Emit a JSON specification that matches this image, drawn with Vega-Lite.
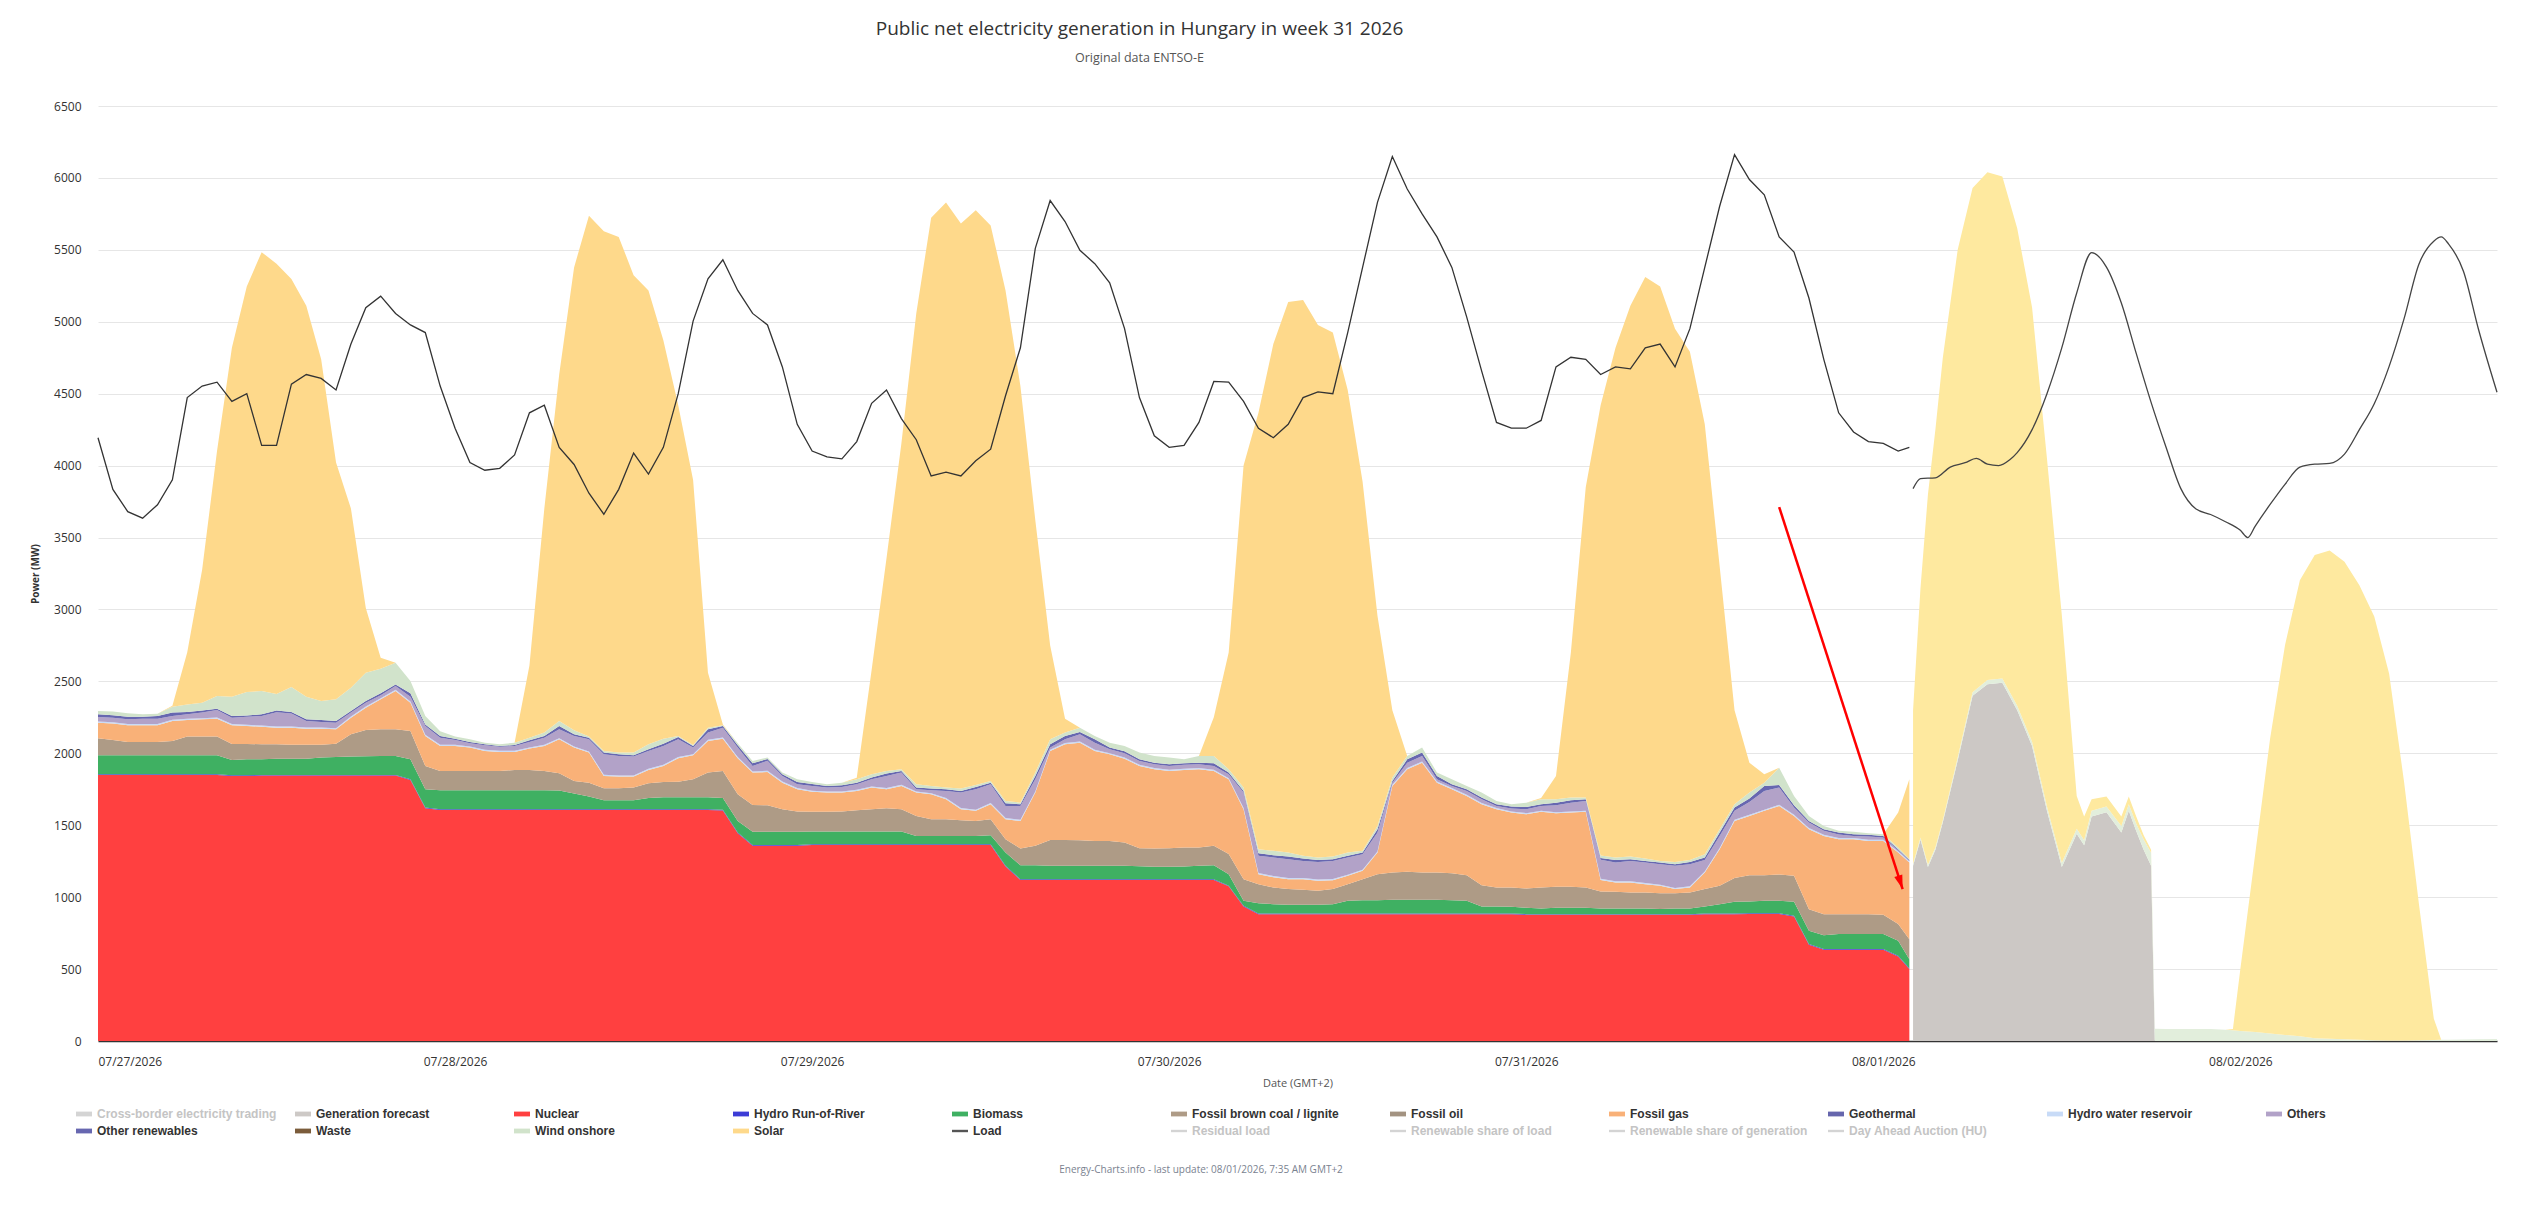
{
  "$schema": "https://vega.github.io/schema/vega-lite/v6.json",
  "width": 2399,
  "height": 935,
  "autosize": {"type": "none"},
  "padding": {"left": 98, "top": 106, "right": 28, "bottom": 164},
  "background": "white",
  "title": {
    "text": "Public net electricity generation in Hungary in week 31 2026",
    "subtitle": "Original data ENTSO-E",
    "anchor": "middle",
    "frame": "group",
    "dx": -158,
    "offset": 36,
    "font": "Open Sans",
    "fontSize": 19,
    "fontWeight": "normal",
    "color": "#333333",
    "subtitleFont": "Open Sans",
    "subtitleFontSize": 12.5,
    "subtitleColor": "#555555",
    "subtitlePadding": 13
  },
  "datasets": {
    "series": [
      {"k": "gf", "name": "Generation forecast", "ord": 2},
      {"k": "nuc", "name": "Nuclear", "ord": 3},
      {"k": "ror", "name": "Hydro Run-of-River", "ord": 4},
      {"k": "bio", "name": "Biomass", "ord": 5},
      {"k": "lig", "name": "Fossil brown coal / lignite", "ord": 6},
      {"k": "gas", "name": "Fossil gas", "ord": 8},
      {"k": "res", "name": "Hydro water reservoir", "ord": 10},
      {"k": "oth", "name": "Others", "ord": 11},
      {"k": "ore", "name": "Other renewables", "ord": 12},
      {"k": "wind", "name": "Wind onshore", "ord": 14},
      {"k": "sol", "name": "Solar", "ord": 15}
    ],
    "gen": [
      {"t":"2026-07-27T00:00","nuc":1849,"ror":5,"bio":132,"lig":118,"gas":109,"res":8,"oth":31,"ore":19,"wind":23,"sol":0,"load":4194},
      {"t":"2026-07-27T01:00","nuc":1849,"ror":5,"bio":132,"lig":107,"gas":115,"res":8,"oth":32,"ore":16,"wind":26,"sol":0,"load":3835},
      {"t":"2026-07-27T02:00","nuc":1849,"ror":5,"bio":132,"lig":93,"gas":116,"res":8,"oth":33,"ore":19,"wind":23,"sol":0,"load":3680},
      {"t":"2026-07-27T03:00","nuc":1849,"ror":5,"bio":132,"lig":93,"gas":116,"res":8,"oth":37,"ore":15,"wind":16,"sol":0,"load":3635},
      {"t":"2026-07-27T04:00","nuc":1849,"ror":5,"bio":132,"lig":93,"gas":116,"res":8,"oth":37,"ore":19,"wind":16,"sol":0,"load":3728},
      {"t":"2026-07-27T05:00","nuc":1849,"ror":5,"bio":132,"lig":100,"gas":139,"res":8,"oth":27,"ore":23,"wind":41,"sol":6,"load":3901},
      {"t":"2026-07-27T06:00","nuc":1849,"ror":5,"bio":132,"lig":130,"gas":116,"res":8,"oth":31,"ore":16,"wind":53,"sol":363,"load":4473},
      {"t":"2026-07-27T07:00","nuc":1849,"ror":5,"bio":132,"lig":130,"gas":120,"res":8,"oth":39,"ore":14,"wind":55,"sol":924,"load":4553},
      {"t":"2026-07-27T08:00","nuc":1849,"ror":5,"bio":132,"lig":130,"gas":125,"res":8,"oth":52,"ore":9,"wind":88,"sol":1703,"load":4580},
      {"t":"2026-07-27T09:00","nuc":1842,"ror":5,"bio":107,"lig":111,"gas":130,"res":8,"oth":45,"ore":11,"wind":135,"sol":2425,"load":4447},
      {"t":"2026-07-27T10:00","nuc":1842,"ror":5,"bio":111,"lig":107,"gas":125,"res":8,"oth":57,"ore":7,"wind":164,"sol":2819,"load":4500},
      {"t":"2026-07-27T11:00","nuc":1845,"ror":5,"bio":108,"lig":105,"gas":122,"res":8,"oth":66,"ore":12,"wind":162,"sol":3051,"load":4141},
      {"t":"2026-07-27T12:00","nuc":1845,"ror":5,"bio":113,"lig":100,"gas":115,"res":8,"oth":100,"ore":11,"wind":116,"sol":2991,"load":4141},
      {"t":"2026-07-27T13:00","nuc":1845,"ror":5,"bio":113,"lig":97,"gas":118,"res":8,"oth":90,"ore":12,"wind":173,"sol":2837,"load":4566},
      {"t":"2026-07-27T14:00","nuc":1845,"ror":5,"bio":113,"lig":97,"gas":111,"res":8,"oth":46,"ore":11,"wind":158,"sol":2717,"load":4633},
      {"t":"2026-07-27T15:00","nuc":1845,"ror":5,"bio":120,"lig":90,"gas":111,"res":8,"oth":39,"ore":14,"wind":132,"sol":2375,"load":4606},
      {"t":"2026-07-27T16:00","nuc":1845,"ror":5,"bio":125,"lig":92,"gas":100,"res":8,"oth":38,"ore":12,"wind":150,"sol":1646,"load":4526},
      {"t":"2026-07-27T17:00","nuc":1845,"ror":5,"bio":127,"lig":155,"gas":116,"res":8,"oth":27,"ore":11,"wind":162,"sol":1246,"load":4845},
      {"t":"2026-07-27T18:00","nuc":1845,"ror":5,"bio":130,"lig":182,"gas":155,"res":8,"oth":27,"ore":12,"wind":196,"sol":450,"load":5098},
      {"t":"2026-07-27T19:00","nuc":1845,"ror":5,"bio":132,"lig":185,"gas":208,"res":8,"oth":20,"ore":14,"wind":171,"sol":77,"load":5178},
      {"t":"2026-07-27T20:00","nuc":1845,"ror":5,"bio":132,"lig":185,"gas":266,"res":8,"oth":27,"ore":11,"wind":151,"sol":0,"load":5058},
      {"t":"2026-07-27T21:00","nuc":1815,"ror":5,"bio":138,"lig":197,"gas":197,"res":8,"oth":34,"ore":23,"wind":85,"sol":0,"load":4978},
      {"t":"2026-07-27T22:00","nuc":1618,"ror":5,"bio":127,"lig":162,"gas":209,"res":8,"oth":61,"ore":11,"wind":58,"sol":0,"load":4925},
      {"t":"2026-07-27T23:00","nuc":1606,"ror":5,"bio":132,"lig":134,"gas":174,"res":8,"oth":50,"ore":12,"wind":32,"sol":0,"load":4553},
      {"t":"2026-07-28T00:00","nuc":1606,"ror":5,"bio":132,"lig":134,"gas":174,"res":8,"oth":34,"ore":9,"wind":14,"sol":0,"load":4260},
      {"t":"2026-07-28T01:00","nuc":1606,"ror":5,"bio":132,"lig":134,"gas":163,"res":8,"oth":22,"ore":9,"wind":18,"sol":0,"load":4021},
      {"t":"2026-07-28T02:00","nuc":1606,"ror":5,"bio":132,"lig":134,"gas":139,"res":8,"oth":32,"ore":7,"wind":11,"sol":0,"load":3968},
      {"t":"2026-07-28T03:00","nuc":1606,"ror":5,"bio":132,"lig":134,"gas":132,"res":8,"oth":29,"ore":5,"wind":12,"sol":0,"load":3981},
      {"t":"2026-07-28T04:00","nuc":1606,"ror":5,"bio":132,"lig":141,"gas":125,"res":8,"oth":34,"ore":7,"wind":16,"sol":0,"load":4074},
      {"t":"2026-07-28T05:00","nuc":1606,"ror":5,"bio":132,"lig":141,"gas":149,"res":8,"oth":38,"ore":11,"wind":19,"sol":502,"load":4367},
      {"t":"2026-07-28T06:00","nuc":1606,"ror":5,"bio":132,"lig":134,"gas":174,"res":8,"oth":50,"ore":12,"wind":23,"sol":1558,"load":4420},
      {"t":"2026-07-28T07:00","nuc":1606,"ror":5,"bio":130,"lig":120,"gas":236,"res":8,"oth":62,"ore":23,"wind":35,"sol":2408,"load":4127},
      {"t":"2026-07-28T08:00","nuc":1606,"ror":5,"bio":109,"lig":88,"gas":232,"res":8,"oth":73,"ore":11,"wind":28,"sol":3218,"load":4008},
      {"t":"2026-07-28T09:00","nuc":1606,"ror":5,"bio":89,"lig":96,"gas":209,"res":8,"oth":84,"ore":12,"wind":7,"sol":3621,"load":3808},
      {"t":"2026-07-28T10:00","nuc":1606,"ror":5,"bio":63,"lig":83,"gas":86,"res":8,"oth":142,"ore":12,"wind":11,"sol":3614,"load":3662},
      {"t":"2026-07-28T11:00","nuc":1606,"ror":5,"bio":63,"lig":83,"gas":81,"res":8,"oth":136,"ore":11,"wind":12,"sol":3585,"load":3835},
      {"t":"2026-07-28T12:00","nuc":1606,"ror":5,"bio":63,"lig":88,"gas":76,"res":8,"oth":131,"ore":9,"wind":19,"sol":3319,"load":4087},
      {"t":"2026-07-28T13:00","nuc":1606,"ror":5,"bio":79,"lig":102,"gas":92,"res":8,"oth":124,"ore":12,"wind":35,"sol":3155,"load":3941},
      {"t":"2026-07-28T14:00","nuc":1606,"ror":5,"bio":84,"lig":106,"gas":111,"res":8,"oth":131,"ore":16,"wind":35,"sol":2770,"load":4127},
      {"t":"2026-07-28T15:00","nuc":1606,"ror":5,"bio":84,"lig":108,"gas":163,"res":8,"oth":123,"ore":17,"wind":7,"sol":2299,"load":4500},
      {"t":"2026-07-28T16:00","nuc":1606,"ror":5,"bio":84,"lig":125,"gas":166,"res":8,"oth":46,"ore":11,"wind":7,"sol":1842,"load":5005},
      {"t":"2026-07-28T17:00","nuc":1606,"ror":5,"bio":84,"lig":171,"gas":220,"res":8,"oth":50,"ore":23,"wind":11,"sol":382,"load":5298},
      {"t":"2026-07-28T18:00","nuc":1602,"ror":5,"bio":83,"lig":187,"gas":225,"res":8,"oth":68,"ore":12,"wind":5,"sol":5,"load":5431},
      {"t":"2026-07-28T19:00","nuc":1444,"ror":5,"bio":81,"lig":185,"gas":251,"res":8,"oth":66,"ore":16,"wind":14,"sol":0,"load":5218},
      {"t":"2026-07-28T20:00","nuc":1358,"ror":5,"bio":91,"lig":187,"gas":225,"res":8,"oth":38,"ore":19,"wind":16,"sol":0,"load":5058},
      {"t":"2026-07-28T21:00","nuc":1358,"ror":5,"bio":91,"lig":185,"gas":231,"res":8,"oth":70,"ore":12,"wind":11,"sol":0,"load":4978},
      {"t":"2026-07-28T22:00","nuc":1358,"ror":5,"bio":91,"lig":157,"gas":185,"res":8,"oth":39,"ore":11,"wind":12,"sol":0,"load":4686},
      {"t":"2026-07-28T23:00","nuc":1358,"ror":5,"bio":91,"lig":141,"gas":155,"res":8,"oth":27,"ore":16,"wind":19,"sol":0,"load":4287},
      {"t":"2026-07-29T00:00","nuc":1363,"ror":5,"bio":88,"lig":137,"gas":139,"res":8,"oth":33,"ore":14,"wind":14,"sol":0,"load":4101},
      {"t":"2026-07-29T01:00","nuc":1363,"ror":5,"bio":88,"lig":137,"gas":134,"res":8,"oth":27,"ore":11,"wind":12,"sol":0,"load":4061},
      {"t":"2026-07-29T02:00","nuc":1363,"ror":5,"bio":88,"lig":139,"gas":132,"res":8,"oth":31,"ore":12,"wind":18,"sol":0,"load":4047},
      {"t":"2026-07-29T03:00","nuc":1363,"ror":5,"bio":88,"lig":148,"gas":134,"res":8,"oth":39,"ore":11,"wind":24,"sol":10,"load":4167},
      {"t":"2026-07-29T04:00","nuc":1363,"ror":5,"bio":88,"lig":155,"gas":151,"res":8,"oth":49,"ore":12,"wind":23,"sol":726,"load":4433},
      {"t":"2026-07-29T05:00","nuc":1363,"ror":5,"bio":88,"lig":162,"gas":132,"res":8,"oth":85,"ore":16,"wind":18,"sol":1479,"load":4526},
      {"t":"2026-07-29T06:00","nuc":1363,"ror":5,"bio":88,"lig":155,"gas":162,"res":8,"oth":85,"ore":11,"wind":12,"sol":2265,"load":4327},
      {"t":"2026-07-29T07:00","nuc":1363,"ror":5,"bio":58,"lig":139,"gas":162,"res":8,"oth":15,"ore":12,"wind":23,"sol":3273,"load":4180},
      {"t":"2026-07-29T08:00","nuc":1363,"ror":5,"bio":58,"lig":116,"gas":173,"res":8,"oth":20,"ore":12,"wind":18,"sol":3950,"load":3928},
      {"t":"2026-07-29T09:00","nuc":1363,"ror":5,"bio":58,"lig":116,"gas":139,"res":8,"oth":49,"ore":12,"wind":12,"sol":4068,"load":3954},
      {"t":"2026-07-29T10:00","nuc":1363,"ror":5,"bio":58,"lig":109,"gas":76,"res":8,"oth":108,"ore":11,"wind":17,"sol":3928,"load":3928},
      {"t":"2026-07-29T11:00","nuc":1363,"ror":5,"bio":58,"lig":104,"gas":70,"res":8,"oth":142,"ore":16,"wind":14,"sol":3996,"load":4034},
      {"t":"2026-07-29T12:00","nuc":1363,"ror":5,"bio":63,"lig":111,"gas":104,"res":8,"oth":131,"ore":11,"wind":12,"sol":3862,"load":4114},
      {"t":"2026-07-29T13:00","nuc":1213,"ror":5,"bio":92,"lig":93,"gas":139,"res":8,"oth":84,"ore":19,"wind":16,"sol":3549,"load":4486},
      {"t":"2026-07-29T14:00","nuc":1120,"ror":5,"bio":97,"lig":116,"gas":192,"res":8,"oth":96,"ore":12,"wind":11,"sol":2896,"load":4819},
      {"t":"2026-07-29T15:00","nuc":1120,"ror":5,"bio":97,"lig":135,"gas":370,"res":8,"oth":85,"ore":23,"wind":23,"sol":1756,"load":5510},
      {"t":"2026-07-29T16:00","nuc":1120,"ror":5,"bio":93,"lig":180,"gas":618,"res":8,"oth":16,"ore":23,"wind":34,"sol":653,"load":5843},
      {"t":"2026-07-29T17:00","nuc":1120,"ror":5,"bio":93,"lig":180,"gas":665,"res":8,"oth":26,"ore":24,"wind":23,"sol":96,"load":5697},
      {"t":"2026-07-29T18:00","nuc":1120,"ror":5,"bio":93,"lig":178,"gas":678,"res":8,"oth":50,"ore":16,"wind":30,"sol":0,"load":5497},
      {"t":"2026-07-29T19:00","nuc":1120,"ror":5,"bio":93,"lig":173,"gas":625,"res":8,"oth":50,"ore":23,"wind":24,"sol":0,"load":5404},
      {"t":"2026-07-29T20:00","nuc":1120,"ror":5,"bio":93,"lig":173,"gas":602,"res":8,"oth":27,"ore":12,"wind":34,"sol":0,"load":5271},
      {"t":"2026-07-29T21:00","nuc":1120,"ror":5,"bio":93,"lig":162,"gas":583,"res":8,"oth":29,"ore":14,"wind":37,"sol":0,"load":4952},
      {"t":"2026-07-29T22:00","nuc":1120,"ror":5,"bio":90,"lig":125,"gas":572,"res":8,"oth":27,"ore":11,"wind":47,"sol":0,"load":4473},
      {"t":"2026-07-29T23:00","nuc":1120,"ror":5,"bio":86,"lig":127,"gas":551,"res":8,"oth":27,"ore":11,"wind":47,"sol":0,"load":4207},
      {"t":"2026-07-30T00:00","nuc":1120,"ror":5,"bio":86,"lig":129,"gas":537,"res":8,"oth":27,"ore":12,"wind":46,"sol":0,"load":4127},
      {"t":"2026-07-30T01:00","nuc":1120,"ror":5,"bio":88,"lig":132,"gas":539,"res":8,"oth":28,"ore":11,"wind":27,"sol":0,"load":4141},
      {"t":"2026-07-30T02:00","nuc":1120,"ror":5,"bio":93,"lig":127,"gas":544,"res":8,"oth":27,"ore":11,"wind":47,"sol":0,"load":4300},
      {"t":"2026-07-30T03:00","nuc":1120,"ror":5,"bio":97,"lig":135,"gas":520,"res":8,"oth":27,"ore":19,"wind":51,"sol":268,"load":4585},
      {"t":"2026-07-30T04:00","nuc":1075,"ror":5,"bio":80,"lig":140,"gas":519,"res":8,"oth":27,"ore":12,"wind":23,"sol":811,"load":4580},
      {"t":"2026-07-30T05:00","nuc":935,"ror":5,"bio":35,"lig":150,"gas":486,"res":8,"oth":108,"ore":11,"wind":24,"sol":2238,"load":4447},
      {"t":"2026-07-30T06:00","nuc":882,"ror":5,"bio":71,"lig":132,"gas":70,"res":8,"oth":119,"ore":19,"wind":27,"sol":3034,"load":4260},
      {"t":"2026-07-30T07:00","nuc":882,"ror":5,"bio":64,"lig":116,"gas":72,"res":8,"oth":129,"ore":16,"wind":30,"sol":3523,"load":4194},
      {"t":"2026-07-30T08:00","nuc":882,"ror":5,"bio":60,"lig":109,"gas":69,"res":8,"oth":131,"ore":18,"wind":28,"sol":3828,"load":4287},
      {"t":"2026-07-30T09:00","nuc":882,"ror":5,"bio":60,"lig":104,"gas":74,"res":8,"oth":119,"ore":17,"wind":18,"sol":3864,"load":4473},
      {"t":"2026-07-30T10:00","nuc":882,"ror":5,"bio":60,"lig":97,"gas":70,"res":8,"oth":123,"ore":14,"wind":16,"sol":3703,"load":4513},
      {"t":"2026-07-30T11:00","nuc":882,"ror":5,"bio":64,"lig":105,"gas":62,"res":8,"oth":126,"ore":12,"wind":18,"sol":3643,"load":4500},
      {"t":"2026-07-30T12:00","nuc":882,"ror":5,"bio":88,"lig":115,"gas":58,"res":8,"oth":120,"ore":11,"wind":23,"sol":3216,"load":4925},
      {"t":"2026-07-30T13:00","nuc":882,"ror":5,"bio":92,"lig":146,"gas":58,"res":8,"oth":108,"ore":11,"wind":12,"sol":2566,"load":5378},
      {"t":"2026-07-30T14:00","nuc":882,"ror":5,"bio":92,"lig":181,"gas":150,"res":8,"oth":131,"ore":23,"wind":23,"sol":1462,"load":5830},
      {"t":"2026-07-30T15:00","nuc":882,"ror":5,"bio":95,"lig":189,"gas":602,"res":8,"oth":15,"ore":12,"wind":23,"sol":469,"load":6149},
      {"t":"2026-07-30T16:00","nuc":882,"ror":5,"bio":95,"lig":194,"gas":713,"res":8,"oth":38,"ore":23,"wind":24,"sol":0,"load":5923},
      {"t":"2026-07-30T17:00","nuc":882,"ror":5,"bio":95,"lig":189,"gas":764,"res":8,"oth":39,"ore":23,"wind":35,"sol":0,"load":5750},
      {"t":"2026-07-30T18:00","nuc":882,"ror":5,"bio":95,"lig":189,"gas":625,"res":8,"oth":16,"ore":23,"wind":23,"sol":0,"load":5590},
      {"t":"2026-07-30T19:00","nuc":882,"ror":5,"bio":92,"lig":188,"gas":583,"res":8,"oth":15,"ore":12,"wind":35,"sol":0,"load":5378},
      {"t":"2026-07-30T20:00","nuc":882,"ror":5,"bio":88,"lig":178,"gas":551,"res":8,"oth":26,"ore":12,"wind":23,"sol":0,"load":5032},
      {"t":"2026-07-30T21:00","nuc":882,"ror":5,"bio":48,"lig":148,"gas":563,"res":8,"oth":27,"ore":11,"wind":35,"sol":0,"load":4659},
      {"t":"2026-07-30T22:00","nuc":882,"ror":5,"bio":48,"lig":132,"gas":544,"res":8,"oth":15,"ore":12,"wind":23,"sol":0,"load":4300},
      {"t":"2026-07-30T23:00","nuc":882,"ror":5,"bio":46,"lig":134,"gas":521,"res":8,"oth":20,"ore":14,"wind":16,"sol":0,"load":4260},
      {"t":"2026-07-31T00:00","nuc":877,"ror":5,"bio":44,"lig":134,"gas":516,"res":8,"oth":27,"ore":16,"wind":30,"sol":0,"load":4260},
      {"t":"2026-07-31T01:00","nuc":877,"ror":5,"bio":39,"lig":146,"gas":526,"res":8,"oth":33,"ore":12,"wind":35,"sol":9,"load":4314},
      {"t":"2026-07-31T02:00","nuc":877,"ror":5,"bio":44,"lig":146,"gas":511,"res":8,"oth":48,"ore":18,"wind":24,"sol":162,"load":4686},
      {"t":"2026-07-31T03:00","nuc":877,"ror":5,"bio":44,"lig":146,"gas":516,"res":8,"oth":61,"ore":17,"wind":18,"sol":1008,"load":4753},
      {"t":"2026-07-31T04:00","nuc":877,"ror":5,"bio":44,"lig":141,"gas":526,"res":8,"oth":68,"ore":12,"wind":11,"sol":2158,"load":4739},
      {"t":"2026-07-31T05:00","nuc":877,"ror":5,"bio":39,"lig":119,"gas":80,"res":8,"oth":132,"ore":12,"wind":18,"sol":3130,"load":4633},
      {"t":"2026-07-31T06:00","nuc":877,"ror":5,"bio":39,"lig":116,"gas":65,"res":8,"oth":131,"ore":18,"wind":16,"sol":3544,"load":4686},
      {"t":"2026-07-31T07:00","nuc":877,"ror":5,"bio":39,"lig":111,"gas":70,"res":8,"oth":142,"ore":12,"wind":18,"sol":3829,"load":4673},
      {"t":"2026-07-31T08:00","nuc":877,"ror":5,"bio":39,"lig":111,"gas":58,"res":8,"oth":143,"ore":11,"wind":17,"sol":4042,"load":4819},
      {"t":"2026-07-31T09:00","nuc":877,"ror":5,"bio":35,"lig":111,"gas":51,"res":8,"oth":142,"ore":12,"wind":11,"sol":3993,"load":4845},
      {"t":"2026-07-31T10:00","nuc":877,"ror":5,"bio":39,"lig":107,"gas":28,"res":8,"oth":154,"ore":11,"wind":16,"sol":3707,"load":4686},
      {"t":"2026-07-31T11:00","nuc":877,"ror":5,"bio":39,"lig":111,"gas":35,"res":8,"oth":154,"ore":16,"wind":14,"sol":3533,"load":4952},
      {"t":"2026-07-31T12:00","nuc":882,"ror":5,"bio":48,"lig":121,"gas":115,"res":8,"oth":80,"ore":16,"wind":24,"sol":2988,"load":5378},
      {"t":"2026-07-31T13:00","nuc":882,"ror":5,"bio":64,"lig":128,"gas":254,"res":8,"oth":85,"ore":23,"wind":23,"sol":1828,"load":5803},
      {"t":"2026-07-31T14:00","nuc":882,"ror":5,"bio":81,"lig":166,"gas":396,"res":8,"oth":62,"ore":23,"wind":23,"sol":654,"load":6162},
      {"t":"2026-07-31T15:00","nuc":883,"ror":5,"bio":82,"lig":183,"gas":412,"res":8,"oth":89,"ore":23,"wind":42,"sol":208,"load":5989},
      {"t":"2026-07-31T16:00","nuc":883,"ror":5,"bio":87,"lig":178,"gas":447,"res":8,"oth":130,"ore":35,"wind":23,"sol":58,"load":5883},
      {"t":"2026-07-31T17:00","nuc":883,"ror":5,"bio":87,"lig":182,"gas":477,"res":8,"oth":120,"ore":18,"wind":120,"sol":0,"load":5590},
      {"t":"2026-07-31T18:00","nuc":865,"ror":5,"bio":98,"lig":180,"gas":417,"res":8,"oth":50,"ore":16,"wind":65,"sol":0,"load":5484},
      {"t":"2026-07-31T19:00","nuc":669,"ror":5,"bio":92,"lig":150,"gas":556,"res":8,"oth":39,"ore":11,"wind":35,"sol":0,"load":5165},
      {"t":"2026-07-31T20:00","nuc":634,"ror":5,"bio":97,"lig":146,"gas":544,"res":8,"oth":27,"ore":11,"wind":23,"sol":0,"load":4739},
      {"t":"2026-07-31T21:00","nuc":634,"ror":5,"bio":104,"lig":139,"gas":521,"res":8,"oth":24,"ore":14,"wind":12,"sol":0,"load":4367},
      {"t":"2026-07-31T22:00","nuc":634,"ror":5,"bio":104,"lig":139,"gas":521,"res":8,"oth":15,"ore":12,"wind":16,"sol":0,"load":4234},
      {"t":"2026-07-31T23:00","nuc":634,"ror":5,"bio":104,"lig":139,"gas":509,"res":8,"oth":22,"ore":12,"wind":12,"sol":0,"load":4167},
      {"t":"2026-08-01T00:00","nuc":634,"ror":5,"bio":104,"lig":134,"gas":514,"res":8,"oth":15,"ore":12,"wind":12,"sol":0,"load":4154},
      {"t":"2026-08-01T01:00","nuc":588,"ror":5,"bio":104,"lig":116,"gas":497,"res":8,"oth":8,"ore":7,"wind":12,"sol":243,"load":4101},
      {"t":"2026-08-01T01:45","nuc":500,"ror":5,"bio":64,"lig":139,"gas":533,"res":8,"oth":3,"ore":6,"wind":7,"sol":555,"load":4127}
    ],
    "fc": [
      {"t":"2026-08-01T02:00","gf":1218,"wind":15,"sol":1067},
      {"t":"2026-08-01T02:30","gf":1400,"wind":15,"sol":1735},
      {"t":"2026-08-01T03:00","gf":1210,"wind":15,"sol":2575},
      {"t":"2026-08-01T03:30","gf":1330,"wind":15,"sol":2905},
      {"t":"2026-08-01T04:00","gf":1520,"wind":15,"sol":3215},
      {"t":"2026-08-01T05:00","gf":1950,"wind":20,"sol":3530},
      {"t":"2026-08-01T06:00","gf":2400,"wind":25,"sol":3505},
      {"t":"2026-08-01T07:00","gf":2480,"wind":30,"sol":3530},
      {"t":"2026-08-01T08:00","gf":2490,"wind":30,"sol":3490},
      {"t":"2026-08-01T09:00","gf":2300,"wind":30,"sol":3320},
      {"t":"2026-08-01T10:00","gf":2050,"wind":30,"sol":3020},
      {"t":"2026-08-01T11:00","gf":1600,"wind":30,"sol":2420},
      {"t":"2026-08-01T12:00","gf":1210,"wind":30,"sol":1720},
      {"t":"2026-08-01T13:00","gf":1440,"wind":35,"sol":229},
      {"t":"2026-08-01T13:30","gf":1360,"wind":35,"sol":165},
      {"t":"2026-08-01T14:00","gf":1560,"wind":40,"sol":80},
      {"t":"2026-08-01T15:00","gf":1590,"wind":40,"sol":70},
      {"t":"2026-08-01T16:00","gf":1450,"wind":45,"sol":65},
      {"t":"2026-08-01T16:30","gf":1600,"wind":45,"sol":55},
      {"t":"2026-08-01T17:00","gf":1460,"wind":50,"sol":50},
      {"t":"2026-08-01T17:30","gf":1330,"wind":70,"sol":30},
      {"t":"2026-08-01T18:00","gf":1218,"wind":90,"sol":22},
      {"t":"2026-08-01T18:15","gf":0,"wind":85,"sol":0},
      {"t":"2026-08-01T19:00","gf":0,"wind":84,"sol":0},
      {"t":"2026-08-01T20:00","gf":0,"wind":84,"sol":0},
      {"t":"2026-08-01T21:00","gf":0,"wind":83,"sol":0},
      {"t":"2026-08-01T22:00","gf":0,"wind":83,"sol":0},
      {"t":"2026-08-01T23:00","gf":0,"wind":78,"sol":0},
      {"t":"2026-08-01T23:30","gf":0,"wind":74,"sol":10},
      {"t":"2026-08-02T00:00","gf":0,"wind":70,"sol":430},
      {"t":"2026-08-02T01:00","gf":0,"wind":62,"sol":1240},
      {"t":"2026-08-02T02:00","gf":0,"wind":53,"sol":2050},
      {"t":"2026-08-02T03:00","gf":0,"wind":42,"sol":2710},
      {"t":"2026-08-02T04:00","gf":0,"wind":33,"sol":3170},
      {"t":"2026-08-02T05:00","gf":0,"wind":19,"sol":3360},
      {"t":"2026-08-02T06:00","gf":0,"wind":15,"sol":3395},
      {"t":"2026-08-02T07:00","gf":0,"wind":12,"sol":3320},
      {"t":"2026-08-02T08:00","gf":0,"wind":8,"sol":3160},
      {"t":"2026-08-02T09:00","gf":0,"wind":6,"sol":2945},
      {"t":"2026-08-02T10:00","gf":0,"wind":3,"sol":2550},
      {"t":"2026-08-02T11:00","gf":0,"wind":4,"sol":1800},
      {"t":"2026-08-02T12:00","gf":0,"wind":5,"sol":950},
      {"t":"2026-08-02T13:00","gf":0,"wind":7,"sol":150},
      {"t":"2026-08-02T13:30","gf":0,"wind":8,"sol":0},
      {"t":"2026-08-02T14:00","gf":0,"wind":9,"sol":0},
      {"t":"2026-08-02T15:00","gf":0,"wind":11,"sol":0},
      {"t":"2026-08-02T16:00","gf":0,"wind":12,"sol":0},
      {"t":"2026-08-02T17:15","gf":0,"wind":14,"sol":0}
    ],
    "loadfc": [
      {"t":"2026-08-01T02:00","load":3840},
      {"t":"2026-08-01T02:30","load":3910},
      {"t":"2026-08-01T03:30","load":3915},
      {"t":"2026-08-01T04:30","load":3990},
      {"t":"2026-08-01T05:30","load":4020},
      {"t":"2026-08-01T06:15","load":4050},
      {"t":"2026-08-01T07:00","load":4010},
      {"t":"2026-08-01T07:45","load":4000},
      {"t":"2026-08-01T08:30","load":4040},
      {"t":"2026-08-01T09:00","load":4090},
      {"t":"2026-08-01T10:00","load":4250},
      {"t":"2026-08-01T11:00","load":4500},
      {"t":"2026-08-01T12:00","load":4820},
      {"t":"2026-08-01T13:00","load":5200},
      {"t":"2026-08-01T14:00","load":5480},
      {"t":"2026-08-01T15:00","load":5380},
      {"t":"2026-08-01T16:00","load":5130},
      {"t":"2026-08-01T17:00","load":4780},
      {"t":"2026-08-01T18:00","load":4440},
      {"t":"2026-08-01T19:00","load":4130},
      {"t":"2026-08-01T20:00","load":3840},
      {"t":"2026-08-01T21:00","load":3700},
      {"t":"2026-08-01T22:00","load":3660},
      {"t":"2026-08-01T23:00","load":3610},
      {"t":"2026-08-02T00:00","load":3550},
      {"t":"2026-08-02T00:30","load":3500},
      {"t":"2026-08-02T01:00","load":3580},
      {"t":"2026-08-02T02:00","load":3730},
      {"t":"2026-08-02T03:00","load":3870},
      {"t":"2026-08-02T04:00","load":3990},
      {"t":"2026-08-02T05:00","load":4010},
      {"t":"2026-08-02T06:00","load":4015},
      {"t":"2026-08-02T07:00","load":4080},
      {"t":"2026-08-02T08:00","load":4250},
      {"t":"2026-08-02T09:00","load":4430},
      {"t":"2026-08-02T10:00","load":4690},
      {"t":"2026-08-02T11:00","load":5020},
      {"t":"2026-08-02T12:00","load":5400},
      {"t":"2026-08-02T13:00","load":5560},
      {"t":"2026-08-02T13:30","load":5590},
      {"t":"2026-08-02T14:00","load":5540},
      {"t":"2026-08-02T15:00","load":5350},
      {"t":"2026-08-02T16:00","load":4950},
      {"t":"2026-08-02T17:15","load":4510}
    ],
    "arrow": [
      {"t":"2026-07-31T17:00","y":3712,"t2":"2026-08-01T01:18","y2":1056}
    ]
  },
  "layer": [
    {
      "data": {"name": "gen"},
      "transform": [
        {"fold": ["nuc","ror","bio","lig","gas","res","oth","ore","wind","sol"], "as": ["k","v"]},
        {"lookup": "k", "from": {"data": {"name": "series"}, "key": "k", "fields": ["name","ord"]}}
      ],
      "mark": {"type": "area", "interpolate": "linear"},
      "encoding": {
        "x": {
          "field": "t", "type": "temporal", "title": "Date (GMT+2)",
          "scale": {"domain": [{"year": 2026, "month": 7, "date": 27}, {"year": 2026, "month": 8, "date": 2, "hours": 17, "minutes": 15}]},
          "axis": {"format": "%m/%d/%Y", "tickCount": {"interval": "day", "step": 1}}
        },
        "y": {
          "field": "v", "type": "quantitative", "stack": "zero", "title": "Power (MW)",
          "scale": {"domain": [0, 6500], "nice": false},
          "axis": {"values": [0,500,1000,1500,2000,2500,3000,3500,4000,4500,5000,5500,6000,6500], "format": "d"}
        },
        "color": {
          "field": "name", "type": "nominal",
          "scale": {
            "domain": ["Cross-border electricity trading","Generation forecast","Nuclear","Hydro Run-of-River","Biomass","Fossil brown coal / lignite","Fossil oil","Fossil gas","Geothermal","Hydro water reservoir","Others","Other renewables","Waste","Wind onshore","Solar","Load","Residual load","Renewable share of load","Renewable share of generation","Day Ahead Auction (HU)"],
            "range": ["#d4d4d4","#cdc9c6","#ff4040","#3c3cd6","#3fb062","#ae9b86","#a39381","#f9b178","#6666ad","#c8dbf7","#b2a2c8","#6767b0","#7b5c3b","#d1e3cb","#fed98b","#555555","#d4d4d4","#d4d4d4","#d4d4d4","#d4d4d4"]
          },
          "legend": {
            "orient": "none",
            "legendX": -22,
            "legendY": 1000,
            "direction": "horizontal",
            "columns": 11,
            "gridAlign": "all",
            "columnPadding": 18,
            "rowPadding": 3,
            "symbolType": {"expr": "indexof(['Load','Residual load','Renewable share of load','Renewable share of generation','Day Ahead Auction (HU)'], datum.value) >= 0 ? 'M-1,-0.15H1V0.15H-1Z' : 'M-1,-0.3H1V0.3H-1Z'"},
            "symbolSize": 256,
            "symbolStrokeWidth": 0,
            "symbolOpacity": 1,
            "labelFont": "Liberation Sans",
            "labelFontSize": 12,
            "labelFontWeight": "bold",
            "labelColor": {"expr": "indexof(['Cross-border electricity trading','Residual load','Renewable share of load','Renewable share of generation','Day Ahead Auction (HU)'], datum.value) >= 0 ? '#c4c4c4' : '#333333'"},
            "labelOffset": 5,
            "labelLimit": 280,
            "title": "Energy-Charts.info - last update: 08/01/2026, 7:35 AM GMT+2",
            "titleOrient": "bottom",
            "titleAnchor": "middle",
            "titleFont": "Open Sans",
            "titleFontSize": 10,
            "titleFontWeight": "normal",
            "titleColor": "#7a8290",
            "titlePadding": 28,
            "titleLimit": 1000
          }
        },
        "order": {"field": "ord", "type": "quantitative"}
      }
    },
    {
      "data": {"name": "fc"},
      "transform": [
        {"fold": ["gf","wind","sol"], "as": ["k","v"]},
        {"lookup": "k", "from": {"data": {"name": "series"}, "key": "k", "fields": ["name","ord"]}}
      ],
      "mark": {"type": "area", "interpolate": "linear"},
      "encoding": {
        "x": {"field": "t", "type": "temporal", "title": "Date (GMT+2)"},
        "y": {"field": "v", "type": "quantitative", "stack": "zero", "title": "Power (MW)"},
        "color": {
          "field": "name", "type": "nominal",
          "scale": {"domain": ["Generation forecast","Wind onshore","Solar"], "range": ["#ccc8c5","#e2eedc","#fee99f"]},
          "legend": null
        },
        "order": {"field": "ord", "type": "quantitative"}
      }
    },
    {
      "data": {"name": "gen"},
      "mark": {"type": "line", "color": "#333333", "strokeWidth": 1.3},
      "encoding": {
        "x": {"field": "t", "type": "temporal", "title": "Date (GMT+2)"},
        "y": {"field": "load", "type": "quantitative", "title": "Power (MW)"}
      }
    },
    {
      "data": {"name": "loadfc"},
      "mark": {"type": "line", "color": "#444444", "strokeWidth": 1.3, "interpolate": "monotone"},
      "encoding": {
        "x": {"field": "t", "type": "temporal", "title": "Date (GMT+2)"},
        "y": {"field": "load", "type": "quantitative", "title": "Power (MW)"}
      }
    },
    {
      "data": {"name": "arrow"},
      "mark": {"type": "rule", "color": "#ff0000", "strokeWidth": 2.5},
      "encoding": {
        "x": {"field": "t", "type": "temporal", "title": "Date (GMT+2)"},
        "y": {"field": "y", "type": "quantitative", "title": "Power (MW)"},
        "x2": {"field": "t2"},
        "y2": {"field": "y2"}
      }
    },
    {
      "data": {"name": "arrow"},
      "mark": {"type": "point", "shape": "M0,0L-0.6,-2L0.6,-2Z", "angle": 342, "filled": true, "color": "#ff0000", "size": 196, "opacity": 1, "strokeWidth": 0},
      "encoding": {
        "x": {"field": "t2", "type": "temporal", "title": "Date (GMT+2)"},
        "y": {"field": "y2", "type": "quantitative", "title": "Power (MW)"}
      }
    }
  ],
  "resolve": {"scale": {"color": "independent"}},
  "config": {
    "view": {"stroke": null},
    "font": "Open Sans",
    "axis": {
      "labelFont": "Open Sans",
      "labelFontSize": 12,
      "labelColor": "#333333",
      "titleFont": "Open Sans",
      "titleFontSize": 11,
      "titleColor": "#555555",
      "titleFontWeight": "normal",
      "ticks": false
    },
    "axisX": {
      "grid": false,
      "domainColor": "#333333",
      "domainWidth": 1.5,
      "labelPadding": 15,
      "titlePadding": 10
    },
    "axisY": {
      "domain": false,
      "grid": true,
      "gridColor": "#e6e6e6",
      "labelPadding": 17,
      "titlePadding": 13,
      "titleFontWeight": "bold",
      "titleColor": "#333333",
      "titleFontSize": 10
    }
  }
}
